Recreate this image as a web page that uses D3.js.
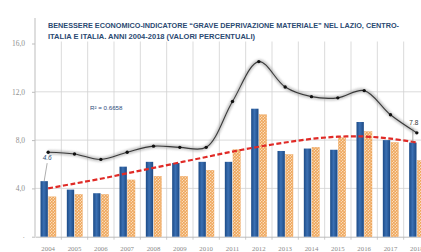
<!DOCTYPE html>
<html>
<head>
<meta charset="utf-8">
<script src="https://cdn.jsdelivr.net/npm/d3@7"></script>
<style>
html,body{margin:0;padding:0;background:#fff;overflow:hidden;}
svg{display:block;}
</style>
</head>
<body>
<div id="chart"></div>
<script>
const years = ["2004","2005","2006","2007","2008","2009","2010","2011","2012","2013","2014","2015","2016","2017","2018"];
const lazio = [4.6, 3.9, 3.6, 5.8, 6.2, 6.1, 6.2, 6.2, 10.6, 7.1, 7.3, 7.2, 9.5, 8.0, 7.8];
const centro = [3.3, 3.5, 3.5, 4.7, 5.0, 5.0, 5.5, 7.2, 10.1, 6.8, 7.4, 8.2, 8.7, 7.8, 6.3];
const italia = [7.0, 6.85, 6.4, 7.0, 7.5, 7.4, 7.4, 11.2, 14.5, 12.4, 11.6, 11.5, 12.1, 10.1, 8.6];
const trend = [4.0, 4.4, 4.8, 5.25, 5.7, 6.15, 6.6, 7.05, 7.45, 7.8, 8.1, 8.28, 8.3, 8.12, 7.8];
const yTicks = [0, 4, 8, 12, 16];
const yTickLabels = ["·", "4,0", "8,0", "12,0", "16,0"];
const titleLines = [
  "BENESSERE ECONOMICO-INDICATORE “GRAVE DEPRIVAZIONE MATERIALE” NEL LAZIO, CENTRO-",
  "ITALIA E ITALIA. ANNI 2004-2018 (VALORI PERCENTUALI)"
];
const r2Label = "R² = 0.6658";
const labelFirst = "4.6";
const labelLast = "7.8";

const W = 421, H = 252;
const svg = d3.select("#chart").append("svg").attr("width", W).attr("height", H);
const defs = svg.append("defs");

const gBlue = defs.append("linearGradient").attr("id","gblue").attr("x1","0").attr("x2","1").attr("y1","0").attr("y2","0");
gBlue.append("stop").attr("offset","0").attr("stop-color","#1b4a86");
gBlue.append("stop").attr("offset","0.45").attr("stop-color","#3b70b3");
gBlue.append("stop").attr("offset","1").attr("stop-color","#1c4984");

const pat = defs.append("pattern").attr("id","porange").attr("patternUnits","userSpaceOnUse")
  .attr("width",3).attr("height",3);
pat.append("rect").attr("width",3).attr("height",3).attr("fill","#f3b574");
pat.append("path").attr("d","M0,3 L3,0").attr("stroke","#fbe6cc").attr("stroke-width",0.8);
pat.append("path").attr("d","M0,0 L3,3").attr("stroke","#e89a4a").attr("stroke-width",0.6);

const glow = defs.append("filter").attr("id","glow").attr("x","-10%").attr("y","-10%").attr("width","120%").attr("height","120%");
glow.append("feGaussianBlur").attr("stdDeviation",1.1);

const left = 35, right = 430, y0 = 236.7, y16 = 43.5;
const x = d3.scaleBand().domain(years).range([left, right]).padding(0);
const y = d3.scaleLinear().domain([0, 16]).range([y0, y16]);
const xs = d3.scaleBand().domain(["lazio","centro"]).range([5.5, 21]).paddingInner(0.1);

// gridlines horizontal
svg.append("g").selectAll("line").data(yTicks.filter(d => d > 0 && d < 16)).join("line")
  .attr("x1", left).attr("x2", W).attr("y1", d => y(d)).attr("y2", d => y(d))
  .attr("stroke", "#d2d2d2").attr("stroke-width", 0.8);
// gridlines vertical
svg.append("g").selectAll("line").data(years.slice(1)).join("line")
  .attr("x1", d => x(d)).attr("x2", d => x(d)).attr("y1", y(16) - 2).attr("y2", y0)
  .attr("stroke", "#d2d2d2").attr("stroke-width", 0.8);

// y axis
const yAxis = d3.axisLeft(y).tickValues(yTicks).tickSize(3).tickFormat((d,i) => yTickLabels[i]);
const ga = svg.append("g").attr("transform", `translate(${left},0)`).call(yAxis);
ga.select(".domain").attr("d", `M0,18V${y0}`).attr("stroke", "#bdbdbd");
ga.selectAll(".tick line").attr("stroke", "#bdbdbd");
ga.selectAll(".tick text").attr("x", -10).attr("fill", "#8f8f8f")
  .attr("font-family", "Liberation Serif, serif").attr("font-size", 7.5);

// x axis
const xAxis = d3.axisBottom(x).tickSize(0);
const gx = svg.append("g").attr("transform", `translate(0,${y0})`).call(xAxis);
gx.select(".domain").attr("stroke", "#bdbdbd");
gx.selectAll(".tick text").attr("y", 9).attr("fill", "#8a8a8a")
  .attr("font-family", "Liberation Serif, serif").attr("font-size", 6.8);
svg.append("g").selectAll("line").data(years.slice(1)).join("line")
  .attr("x1", d => x(d)).attr("x2", d => x(d)).attr("y1", y0).attr("y2", y0 + 3)
  .attr("stroke", "#bdbdbd").attr("stroke-width", 0.8);

// bars
svg.append("g").selectAll("rect").data(years).join("rect")
  .attr("x", d => x(d) + xs("lazio")).attr("width", xs.bandwidth())
  .attr("y", (d,i) => y(lazio[i])).attr("height", (d,i) => y0 - y(lazio[i]))
  .attr("fill", "url(#gblue)");
svg.append("g").selectAll("rect").data(years).join("rect")
  .attr("x", d => x(d) + xs("centro")).attr("width", xs.bandwidth())
  .attr("y", (d,i) => y(centro[i])).attr("height", (d,i) => y0 - y(centro[i]))
  .attr("fill", "url(#porange)").attr("stroke", "#eda35a").attr("stroke-width", 0.4);

const cx = d => x(d) + x.bandwidth() / 2;

// trend line
const tLine = d3.line().x((d,i) => cx(years[i])).y(d => y(d)).curve(d3.curveCatmullRom);
svg.append("path").datum(trend).attr("d", tLine).attr("fill", "none")
  .attr("stroke", "#e02a26").attr("stroke-width", 2.2).attr("stroke-dasharray", "5,2.5");

// italia line
const iLine = d3.line().x((d,i) => cx(years[i])).y(d => y(d)).curve(d3.curveCatmullRom);
svg.append("path").datum(italia).attr("d", iLine).attr("fill", "none")
  .attr("stroke", "#a5a5a5").attr("stroke-width", 4.5).attr("opacity", 0.6).attr("filter", "url(#glow)");
svg.append("path").datum(italia).attr("d", iLine).attr("fill", "none")
  .attr("stroke", "#3a3a3a").attr("stroke-width", 1.1);
svg.append("g").selectAll("circle").data(italia).join("circle")
  .attr("cx", (d,i) => cx(years[i])).attr("cy", d => y(d)).attr("r", 1.7).attr("fill", "#111");

// data labels
const fx = x(years[0]) + xs("lazio") + xs.bandwidth()/2;
svg.append("line").attr("x1", fx + 3).attr("y1", y(lazio[0]) - 18).attr("x2", fx).attr("y2", y(lazio[0]))
  .attr("stroke", "#777").attr("stroke-width", 0.6);
svg.append("text").attr("x", fx + 3).attr("y", y(lazio[0]) - 21).attr("text-anchor", "middle")
  .attr("font-family", "Liberation Sans, sans-serif").attr("font-size", 6.5).attr("font-style", "italic")
  .attr("fill", "#2d4f7a").text(labelFirst);
const lx = x(years[14]) + xs("lazio") + xs.bandwidth()/2;
svg.append("line").attr("x1", lx).attr("y1", y(lazio[14]) - 14).attr("x2", lx).attr("y2", y(lazio[14]))
  .attr("stroke", "#777").attr("stroke-width", 0.6);
svg.append("text").attr("x", lx + 1).attr("y", y(lazio[14]) - 17.5).attr("text-anchor", "middle")
  .attr("font-family", "Liberation Sans, sans-serif").attr("font-size", 6.5)
  .attr("fill", "#333").text(labelLast);

// R2
svg.append("text").attr("x", 90).attr("y", 109.5)
  .attr("font-family", "Liberation Sans, sans-serif").attr("font-size", 6.2)
  .attr("fill", "#2c4c7c").text(r2Label);

// title
const tg = svg.append("g");
tg.append("text").attr("x", 48).attr("y", 27.5).attr("textLength", 351).attr("lengthAdjust", "spacingAndGlyphs")
  .attr("font-family", "Liberation Sans, sans-serif").attr("font-weight", "bold").attr("font-size", 7.6)
  .attr("fill", "#2b4a72").text(titleLines[0]);
tg.append("text").attr("x", 48).attr("y", 38.5).attr("textLength", 207).attr("lengthAdjust", "spacingAndGlyphs")
  .attr("font-family", "Liberation Sans, sans-serif").attr("font-weight", "bold").attr("font-size", 7.6)
  .attr("fill", "#2b4a72").text(titleLines[1]);
</script>
</body>
</html>
